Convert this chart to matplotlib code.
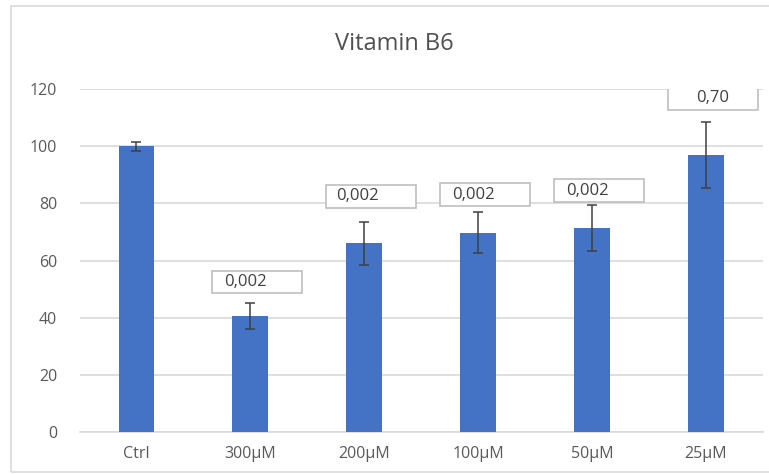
"""Vitamin B6 — bar chart with error bars and p-value boxes (Excel style)."""

import matplotlib

matplotlib.use("Agg")
import matplotlib.pyplot as plt  # noqa: E402
from matplotlib.patches import Rectangle  # noqa: E402

plt.rcParams["font.family"] = ["Open Sans", "DejaVu Sans"]

# --- data ---
categories = ["Ctrl", "300µM", "200µM", "100µM", "50µM", "25µM"]
values = [100.0, 40.7, 66.0, 69.8, 71.4, 97.0]
errors = [1.5, 4.5, 7.4, 7.2, 8.0, 11.6]
yticks = [0, 20, 40, 60, 80, 100, 120]

# p-value boxes (category index -> label)
p_idx = [1, 2, 3, 4, 5]
p_labels = ["0,002", "0,002", "0,002", "0,002", "0,70"]
# annotation layout (where the boxes were placed by hand)
p_box_y = [52.5, 82.5, 83.0, 84.4, 116.8]
p_text_dx = [-0.04, -0.06, -0.04, -0.04, 0.06]

BAR_COLOR = "#4472C4"
GRID_COLOR = "#d9d9d9"
TEXT_COLOR = "#595959"

fig = plt.figure(figsize=(7.69, 4.74), dpi=100)
ax = fig.add_axes([0.1034, 0.0886, 0.8886, 0.7234])

# outer chart frame
fig.patches.append(Rectangle((0.0143, 0.004), 1.2, 0.983, transform=fig.transFigure,
                             fill=False, edgecolor="#d9d9d9", linewidth=1.2))

x = list(range(len(categories)))
ax.bar(x, values, width=0.315, color=BAR_COLOR, zorder=3)
ax.errorbar(x, values, yerr=errors, fmt="none", ecolor="#404040",
            elinewidth=1.1, capsize=3.3, capthick=1.1, zorder=4)

for i, lab, by, dx in zip(p_idx, p_labels, p_box_y, p_text_dx):
    ax.add_patch(Rectangle((i - 0.335, by - 4.0), 0.79, 8.0, facecolor="white",
                           edgecolor="#bfbfbf", linewidth=1.2, zorder=5))
    ax.text(i + dx, by, lab, ha="center", va="center", fontsize=12,
            color="#404040", zorder=6)

ax.set_xlim(-0.5, len(categories) - 0.5)
ax.set_ylim(0, 120)
ax.set_yticks(yticks)
ax.set_xticks(x)
ax.set_xticklabels(categories)
ax.tick_params(axis="both", length=0, labelsize=11.5, colors=TEXT_COLOR)
ax.tick_params(axis="y", pad=16)
ax.tick_params(axis="x", pad=10)
ax.grid(True, axis="y", color=GRID_COLOR, linewidth=1.2, zorder=0)
ax.set_axisbelow(True)
for side in ["top", "right", "left"]:
    ax.spines[side].set_visible(False)
ax.spines["bottom"].set_color(GRID_COLOR)
ax.spines["bottom"].set_linewidth(1.2)

fig.text(0.513, 0.907, "Vitamin B6", ha="center", va="center",
         fontsize=17, color="#505050")

fig.savefig("out.png", dpi=100)
